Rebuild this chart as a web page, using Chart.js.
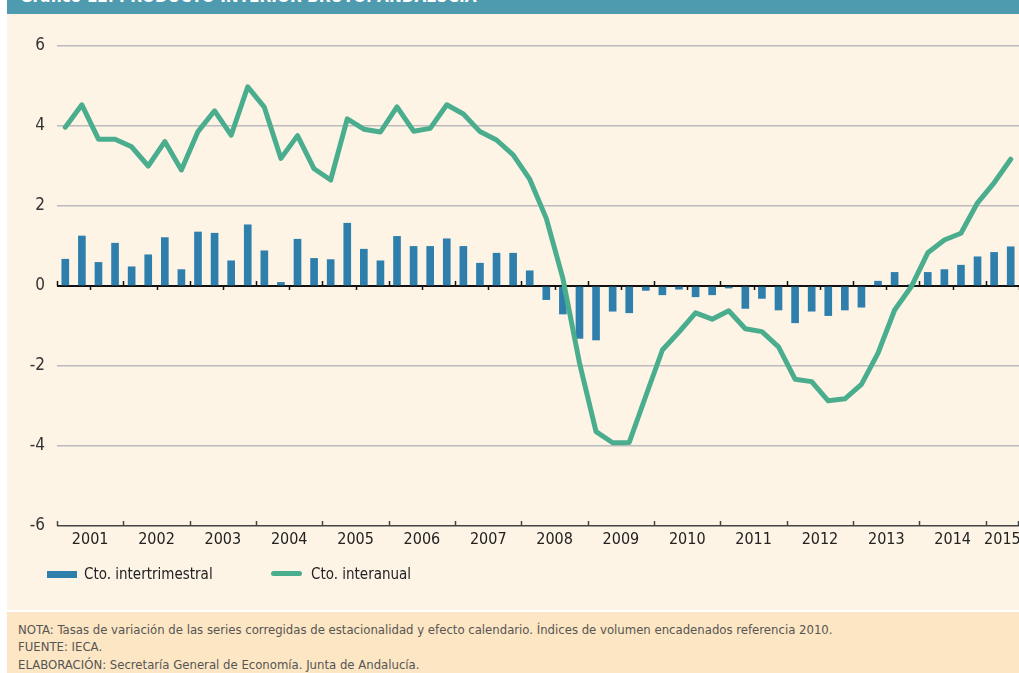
<!DOCTYPE html>
<html>
<head>
<meta charset="utf-8">
<style>
    body { margin: 0; width: 1019px; height: 673px; overflow: hidden; background: #ffffff;
           font-family: 'Liberation Sans Narrow', 'DejaVu Sans Condensed', 'Roboto', sans-serif; }
    #header { position: absolute; left: 7px; top: 0; width: 1012px; height: 14px; background: #4e9bb0; overflow: hidden; }
    #header span { position: absolute; left: 13px; top: -12px; font-size: 17px; line-height: 16px; font-weight: bold; color: #ffffff; white-space: nowrap; }
    #panel { position: absolute; left: 7px; top: 14px; width: 1012px; height: 596px; background: #fdf4e6; }
    #chartId { position: absolute; left: 7px; top: 14px; }
    .leg { position: absolute; top: 564px; font-size: 15px; line-height: 20px; color: #222; white-space: nowrap; }
    .mark { position: absolute; }
    #note { position: absolute; left: 7px; top: 612px; width: 1012px; height: 61px; background: #fde6c3; }
    #note div { position: absolute; left: 11px; font-size: 13px; line-height: 14px; color: #555; white-space: nowrap; }
</style>
</head>
<body>
    <div id="header"><span>Gráfico 12. PRODUCTO INTERIOR BRUTO. ANDALUCÍA</span></div>
    <div id="panel"></div>
    <canvas id="chartId" width="1012" height="596"></canvas>

    <!-- leyenda -->
    <div class="mark" style="left:47px; top:571px; width:30px; height:7px; background:#2f7fad;"></div>
    <div class="leg" style="left:84px;">Cto. intertrimestral</div>
    <div class="mark" style="left:271px; top:571px; width:31px; height:5px; border-radius:3px; background:#4aae8e;"></div>
    <div class="leg" style="left:311px;">Cto. interanual</div>

    <div id="note">
        <div style="top:11px;">NOTA: Tasas de variación de las series corregidas de estacionalidad y efecto calendario. Índices de volumen encadenados referencia 2010.</div>
        <div style="top:28px;">FUENTE: IECA.</div>
        <div style="top:46px;">ELABORACIÓN: Secretaría General de Economía. Junta de Andalucía.</div>
    </div>

    <script src="https://cdn.jsdelivr.net/npm/chart.js"></script>
    <script>
        // datos (trimestrales 2001T1 - 2015T2)
        const years = [2001, 2002, 2003, 2004, 2005, 2006, 2007, 2008, 2009, 2010, 2011, 2012, 2013, 2014, 2015];
        const quartersLastYear = 2;
        const yTicks = [-6, -4, -2, 0, 2, 4, 6];

        const intertrimestral = [
            0.67, 1.25, 0.59, 1.07, 0.48, 0.78, 1.21, 0.41, 1.35, 1.32, 0.63, 1.53,
            0.88, 0.09, 1.17, 0.69, 0.66, 1.57, 0.92, 0.63, 1.24, 0.99, 0.99, 1.18,
            0.99, 0.57, 0.82, 0.82, 0.38, -0.34, -0.7, -1.31, -1.35, -0.63, -0.67, -0.11,
            -0.22, -0.08, -0.27, -0.22, -0.05, -0.56, -0.31, -0.6, -0.92, -0.63, -0.74, -0.6,
            -0.53, 0.12, 0.34, 0.03, 0.34, 0.41, 0.52, 0.73, 0.84, 0.98
        ];
        const interanual = [
            3.97, 4.53, 3.67, 3.67, 3.48, 3.0, 3.61, 2.9, 3.86, 4.38, 3.77, 4.98,
            4.47, 3.19, 3.76, 2.93, 2.65, 4.18, 3.92, 3.85, 4.48, 3.87, 3.94, 4.53,
            4.3, 3.86, 3.65, 3.28, 2.67, 1.69, 0.19, -1.92, -3.64, -3.92, -3.91, -2.75,
            -1.6, -1.15, -0.67, -0.83, -0.62, -1.07, -1.14, -1.52, -2.33, -2.39, -2.87, -2.82,
            -2.46, -1.68, -0.6, -0.02, 0.83, 1.15, 1.32, 2.08, 2.58, 3.17
        ];

        // etiquetas de categoria: 2001T1 ...
        const labels = [];
        years.forEach((y, i) => {
            const nq = i === years.length - 1 ? quartersLastYear : 4;
            for (let q = 1; q <= nq; q++) labels.push(y + 'T' + q);
        });

        const FONT = "'Liberation Sans Narrow', 'DejaVu Sans Condensed', 'Roboto', sans-serif";

        // ticks del eje y años bajo el eje
        const axisDeco = {
            id: 'axisDeco',
            afterDatasetsDraw(chart) {
                const { ctx, scales: { x, y } } = chart;
                const w = x.getPixelForTick(1) - x.getPixelForTick(0);
                const edge = k => x.getPixelForTick(0) - w / 2 + k * w;
                const y0 = y.getPixelForValue(0);
                const yb = y.getPixelForValue(-6);
                ctx.save();
                ctx.strokeStyle = '#111';
                ctx.lineWidth = 1.5;
                for (let k = 0; k <= labels.length; k += 2) {
                    const px = Math.round(edge(k)) + 0.5;
                    ctx.beginPath();
                    if (k % 4 === 0) {
                        ctx.moveTo(px, y0); ctx.lineTo(px, y0 - 5);
                    } else {
                        ctx.moveTo(px, y0); ctx.lineTo(px, y0 + 4);
                    }
                    ctx.stroke();
                }
                ctx.strokeStyle = '#444';
                for (let k = 0; k <= labels.length; k += 4) {
                    const px = Math.round(Math.min(edge(k), x.right - 1)) + 0.5;
                    ctx.beginPath();
                    ctx.moveTo(px, yb); ctx.lineTo(px, yb - 5);
                    ctx.stroke();
                }
                const last = Math.round(x.right) - 0.5;
                ctx.beginPath(); ctx.moveTo(last, yb); ctx.lineTo(last, yb - 5); ctx.stroke();

                ctx.fillStyle = '#222';
                ctx.font = '16px ' + FONT;
                ctx.textAlign = 'center';
                ctx.textBaseline = 'middle';
                years.forEach((yr, i) => {
                    const a = i * 4;
                    const n = i === years.length - 1 ? quartersLastYear : 4;
                    const cx = (edge(a) + edge(a + n)) / 2;
                    ctx.fillText(String(yr), cx, yb + 14);
                });
                ctx.restore();
            }
        };

        new Chart(document.getElementById('chartId'), {
            data: {
                labels: labels,
                datasets: [{
                    type: 'line',
                    label: 'Cto. interanual',
                    data: interanual,
                    borderColor: '#4aae8e',
                    borderWidth: 5,
                    pointRadius: 0,
                    tension: 0,
                    borderJoinStyle: 'round',
                    borderCapStyle: 'round',
                    order: 1
                }, {
                    type: 'bar',
                    label: 'Cto. intertrimestral',
                    data: intertrimestral,
                    backgroundColor: '#2f7fad',
                    barThickness: 7,
                    order: 2
                }]
            },
            options: {
                responsive: false,
                animation: false,
                devicePixelRatio: 1,
                layout: { padding: { top: 32, bottom: 84, left: 0, right: 0 } },
                plugins: { legend: { display: false }, tooltip: { enabled: false } },
                scales: {
                    x: {
                        offset: true,
                        grid: { display: false, drawTicks: false },
                        border: { display: false },
                        ticks: { display: false },
                        afterFit: s => { s.height = 0; }
                    },
                    y: {
                        min: -6,
                        max: 6,
                        afterBuildTicks: s => { s.ticks = yTicks.map(v => ({ value: v })); },
                        border: { display: false },
                        grid: {
                            drawTicks: false,
                            color: c => c.tick.value === 0 ? '#111' : (c.tick.value === -6 ? '#444' : '#bcbcbc'),
                            lineWidth: c => c.tick.value === 0 ? 2 : 1.5
                        },
                        ticks: { padding: 12, color: '#333', font: { size: 17, family: FONT } },
                        afterFit: s => { s.width = 50; }
                    }
                }
            },
            plugins: [axisDeco]
        });
    </script>
</body>
</html>
